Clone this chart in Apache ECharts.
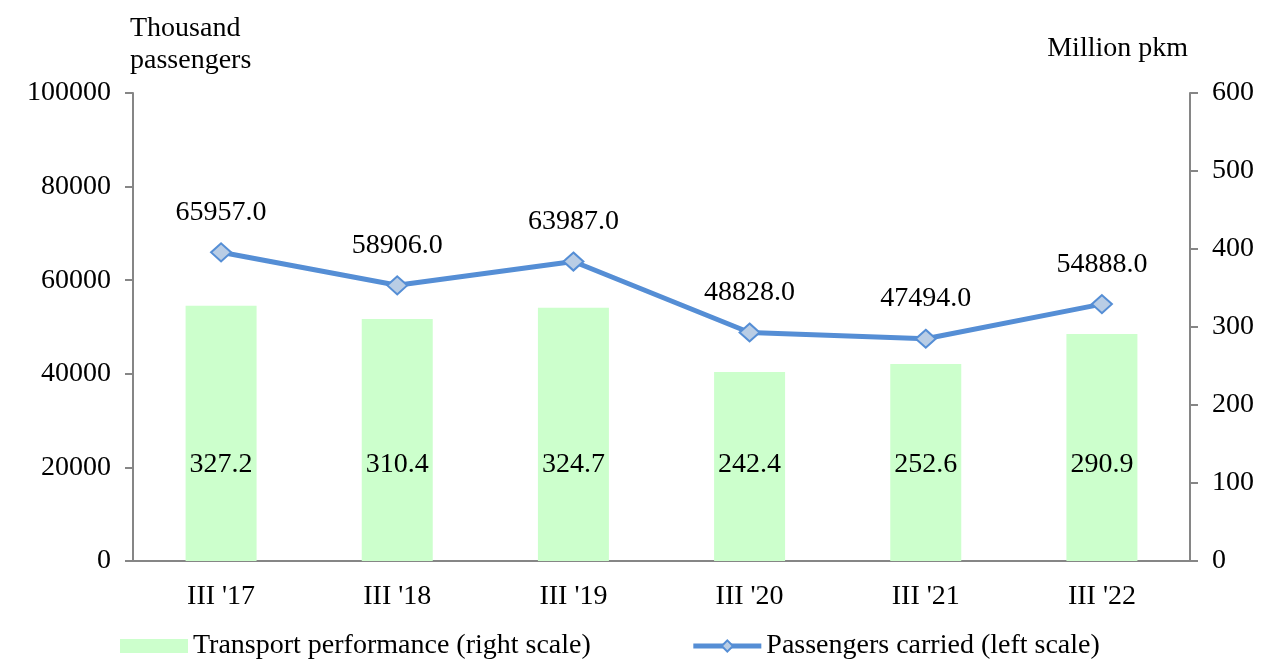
<!DOCTYPE html>
<html>
<head>
<meta charset="utf-8">
<script src="https://cdn.jsdelivr.net/npm/echarts@6/dist/echarts.min.js"></script>
<style>
    html, body { margin: 0; padding: 0; background: #fff; }
    #chart { width: 1268px; height: 661px; }
</style>
</head>
<body>
<div id="chart"></div>
<script>
    // 数据
    var categories = ["III '17", "III '18", "III '19", "III '20", "III '21", "III '22"];
    var performance = [327.2, 310.4, 324.7, 242.4, 252.6, 290.9];      // Million pkm, right scale
    var passengers = [65957.0, 58906.0, 63987.0, 48828.0, 47494.0, 54888.0]; // Thousand passengers, left scale
    var leftTicks = [0, 100000, 20000];   // min, max, interval
    var rightTicks = [0, 600, 100];

    var font = 'Liberation Serif';
    var fs = 28;
    var axisGray = '#868686';
    var lineBlue = '#558ed5';

    var myChart = echarts.init(document.getElementById('chart'));
    var option = {
        animation: false,
        textStyle: { fontFamily: font, color: '#000' },
        grid: { left: 133, right: 78, top: 93, bottom: 100 },
        graphic: [
            { type: 'text', left: 130, top: 13, style: { text: 'Thousand\npassengers', font: fs + 'px ' + font, fill: '#000', lineHeight: 32 } },
            { type: 'text', right: 80, top: 35, style: { text: 'Million pkm', font: fs + 'px ' + font, fill: '#000', textAlign: 'right' } }
        ],
        legend: {
            left: 115,
            top: 627,
            itemGap: 100,
            itemWidth: 68,
            itemHeight: 14,
            textStyle: { fontFamily: font, fontSize: fs, color: '#000' },
            data: [
                { name: 'Transport performance (right scale)', icon: 'rect' },
                {
                    name: 'Passengers carried (left scale)',
                    lineStyle: { color: lineBlue, width: 5 },
                    itemStyle: { color: '#b9cde5', borderColor: lineBlue, borderWidth: 2 }
                }
            ]
        },
        xAxis: {
            type: 'category',
            data: categories,
            axisLine: { lineStyle: { color: axisGray, width: 2 } },
            axisTick: { length: 8, lineStyle: { color: axisGray, width: 2 } },
            axisLabel: { fontFamily: font, fontSize: fs, color: '#000', margin: 22 }
        },
        yAxis: [{
            type: 'value',
            min: leftTicks[0], max: leftTicks[1], interval: leftTicks[2],
            axisLine: { show: true, lineStyle: { color: axisGray, width: 2 } },
            axisTick: { show: true, length: 8, lineStyle: { color: axisGray, width: 2 } },
            splitLine: { show: false },
            axisLabel: { fontFamily: font, fontSize: fs, color: '#000', margin: 22, formatter: function (v) { return String(v); } }
        }, {
            type: 'value',
            position: 'right',
            min: rightTicks[0], max: rightTicks[1], interval: rightTicks[2],
            axisLine: { show: true, lineStyle: { color: axisGray, width: 2 } },
            axisTick: { show: true, length: 8, lineStyle: { color: axisGray, width: 2 } },
            splitLine: { show: false },
            axisLabel: { fontFamily: font, fontSize: fs, color: '#000', margin: 22 }
        }],
        series: [{
            name: 'Transport performance (right scale)',
            type: 'bar',
            yAxisIndex: 1,
            barWidth: 71,
            data: performance,
            itemStyle: { color: '#ccffcc' },
            label: {
                show: true,
                position: 'insideBottom',
                distance: 82,
                fontFamily: font, fontSize: fs, color: '#000',
                formatter: function (p) { return p.value.toFixed(1); }
            }
        }, {
            name: 'Passengers carried (left scale)',
            type: 'line',
            yAxisIndex: 0,
            data: passengers,
            symbol: 'diamond',
            symbolSize: [20, 18],
            lineStyle: { color: lineBlue, width: 5 },
            itemStyle: { color: '#b9cde5', borderColor: lineBlue, borderWidth: 2 },
            label: {
                show: true,
                position: 'top',
                distance: 16,
                fontFamily: font, fontSize: fs, color: '#000',
                formatter: function (p) { return p.value.toFixed(1); }
            }
        }]
    };
    myChart.setOption(option);
</script>
</body>
</html>
